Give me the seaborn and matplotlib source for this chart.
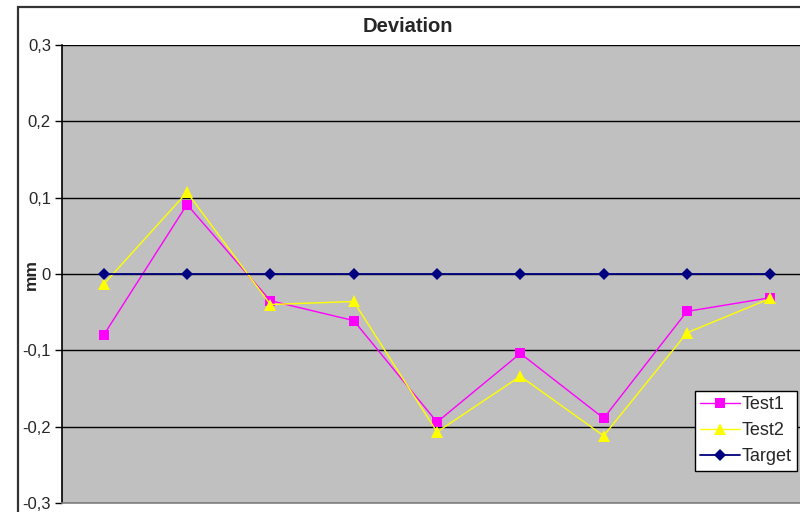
import matplotlib
matplotlib.use("Agg")
import matplotlib.pyplot as plt
import seaborn as sns
import pandas as pd
from matplotlib.patches import Rectangle

points = [1, 2, 3, 4, 5, 6, 7, 8, 9]
test1 = [-0.080, 0.091, -0.035, -0.061, -0.194, -0.104, -0.189, -0.049, -0.031]
test2 = [-0.0135, 0.107, -0.040, -0.036, -0.207, -0.134, -0.212, -0.077, -0.032]
target = [0, 0, 0, 0, 0, 0, 0, 0, 0]
y_ticks = [-0.3, -0.2, -0.1, 0, 0.1, 0.2, 0.3]
y_tick_labels = ["-0,3", "-0,2", "-0,1", "0", "0,1", "0,2", "0,3"]

sns.set_style("white")
plt.rcParams['font.family'] = ['Liberation Sans', 'DejaVu Sans']

fig = plt.figure(figsize=(8, 5.12), dpi=100)
fig.patch.set_facecolor("white")

# outer chart border
fig.add_artist(Rectangle((17.5 / 800, -0.1), 1.0, (512 - 6.5) / 512 + 0.1,
                         transform=fig.transFigure, fill=False,
                         edgecolor="#333333", linewidth=1.6, zorder=0))

ax = fig.add_axes([62 / 800, 1 - 503 / 512, 750 / 800, 458 / 512])
ax.set_facecolor("#c0c0c0")

df1 = pd.DataFrame({"x": points, "y": test1})
df2 = pd.DataFrame({"x": points, "y": test2})
df3 = pd.DataFrame({"x": points, "y": target})

sns.lineplot(data=df1, x="x", y="y", ax=ax, color="#ff00ff", marker="s",
             markersize=7, markeredgewidth=0, linewidth=1.0, label="Test1", zorder=3)
sns.lineplot(data=df2, x="x", y="y", ax=ax, color="#ffff00", marker="^",
             markersize=8.5, markeredgewidth=0, linewidth=1.0, label="Test2", zorder=4)
sns.lineplot(data=df3, x="x", y="y", ax=ax, color="#000080", marker="D",
             markersize=6, markeredgewidth=0, linewidth=1.3, label="Target", zorder=5)

ax.set_xlim(0.5, 9.5)
ax.set_ylim(-0.3, 0.3)
ax.set_yticks(y_ticks)
ax.set_yticklabels(y_tick_labels, fontsize=12)
ax.set_xticks([])
ax.set_xlabel("")
ax.set_ylabel("mm", fontsize=12.5, fontweight="bold")
ax.yaxis.set_label_coords((39 - 62) / 750, 0.5)
ax.yaxis.grid(True, color="black", linewidth=1.0)
ax.set_axisbelow(True)
ax.tick_params(axis="y", direction="out", length=5, width=1, color="black", pad=3, left=True)

for side in ["top", "right"]:
    ax.spines[side].set_visible(False)
ax.spines["left"].set_color("black")
ax.spines["left"].set_linewidth(1.2)
ax.spines["bottom"].set_color("#808080")
ax.spines["bottom"].set_linewidth(1.2)

fig.text(408 / 800, 1 - 26 / 512, "Deviation", ha="center", va="center",
         fontsize=14.5, fontweight="bold")

leg = ax.legend(loc="upper left", bbox_to_anchor=(695 / 800, 1 - 391 / 512),
                bbox_transform=fig.transFigure, frameon=True, fancybox=False,
                edgecolor="black", facecolor="white", framealpha=1, fontsize=13,
                handlelength=2.2, borderpad=0.3, labelspacing=0.5,
                handletextpad=0.1, borderaxespad=0)
leg.get_frame().set_linewidth(1.0)

fig.savefig("out.png", dpi=100)
